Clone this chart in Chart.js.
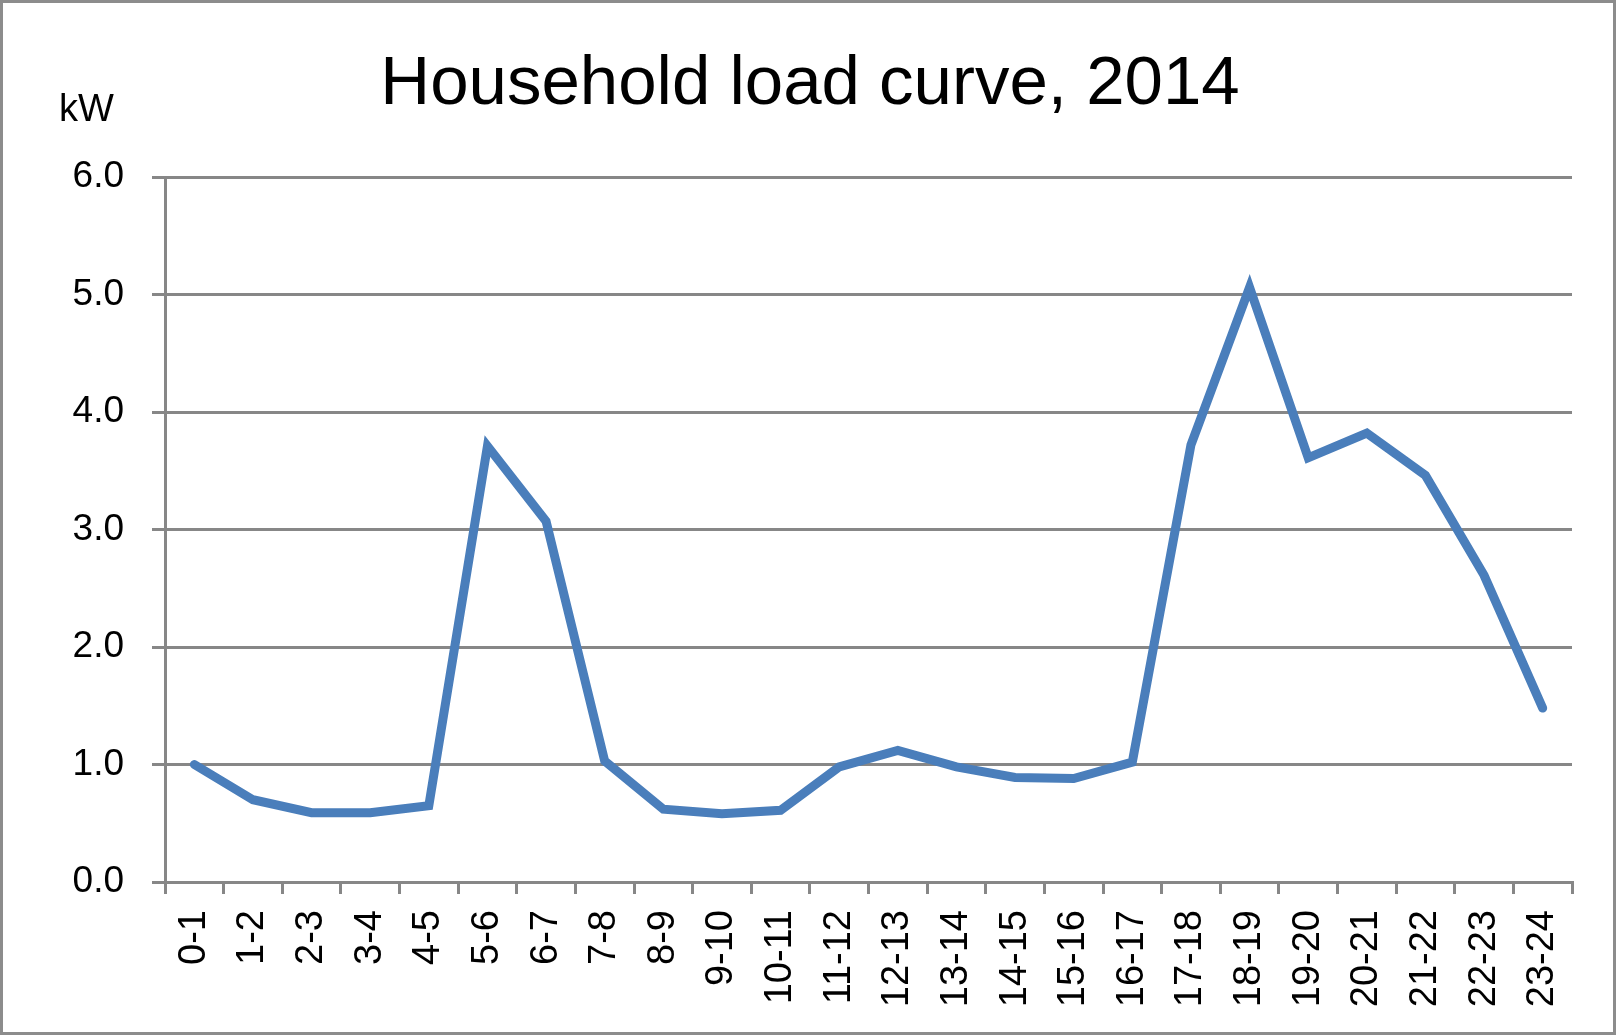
<!DOCTYPE html>
<html>
<head>
<meta charset="utf-8">
<script src="https://cdn.jsdelivr.net/npm/chart.js"></script>
<style>
  html, body { margin: 0; padding: 0; background: #fff; }
  canvas { display: block; }
</style>
</head>
<body>
<canvas id="chart" width="1616" height="1035"></canvas>
<script>
const hours = ["0-1", "1-2", "2-3", "3-4", "4-5", "5-6", "6-7", "7-8", "8-9", "9-10", "10-11", "11-12",
  "12-13", "13-14", "14-15", "15-16", "16-17", "17-18", "18-19", "19-20", "20-21", "21-22", "22-23", "23-24"];
const loadKW = [1.0, 0.70, 0.59, 0.59, 0.65, 3.71, 3.07, 1.03, 0.62, 0.58, 0.61, 0.98,
  1.12, 0.98, 0.89, 0.88, 1.02, 3.72, 5.06, 3.61, 3.82, 3.46, 2.61, 1.48];
const yTicks = [0, 1, 2, 3, 4, 5, 6];

const titleText = "Household load curve, 2014";
const unitText = "kW";

const gray = "#878787";
const labelFont = '"Liberation Sans", Arial, sans-serif';

const frame = {
  id: "frame",
  afterDraw(chart) {
    const ctx = chart.ctx;
    ctx.save();
    ctx.strokeStyle = "#8c8c8c";
    ctx.lineWidth = 3;
    ctx.strokeRect(1.5, 1.5, chart.width - 3, chart.height - 3);
    ctx.fillStyle = "#000";
    ctx.textBaseline = "alphabetic";
    ctx.font = '69px "Liberation Sans", Arial, sans-serif';
    ctx.textAlign = "center";
    ctx.fillText(titleText, 810, 104);
    ctx.font = '38px "Liberation Sans", Arial, sans-serif';
    ctx.textAlign = "left";
    ctx.fillText(unitText, 59, 121);
    ctx.restore();
  },
};

new Chart(document.getElementById("chart"), {
  type: "line",
  data: {
    labels: hours,
    datasets: [
      {
        data: loadKW,
        borderColor: "rgb(74, 126, 187)",
        borderWidth: 9,
        borderJoinStyle: "miter",
        borderCapStyle: "round",
        tension: 0,
        fill: false,
      },
    ],
  },
  options: {
    responsive: false,
    animation: false,
    layout: {
      padding: { top: 177, right: 44, bottom: 0, left: 0 },
    },
    plugins: {
      legend: { display: false },
      tooltip: { enabled: false },
      title: { display: false },
    },
    elements: {
      point: { radius: 0 },
    },
    scales: {
      x: {
        offset: true,
        grid: {
          offset: true,
          drawOnChartArea: false,
          drawTicks: true,
          tickLength: 12,
          color: gray,
          lineWidth: 3,
        },
        border: { display: true, color: gray, width: 3 },
        ticks: {
          autoSkip: false,
          maxRotation: 90,
          minRotation: 90,
          padding: 16,
          color: "#000",
          font: { family: labelFont, size: 38 },
        },
        afterFit(scale) {
          scale.height = 153;
          scale.paddingLeft = 0;
          scale.paddingRight = 0;
        },
      },
      y: {
        min: 0,
        max: 6,
        afterBuildTicks(scale) {
          scale.ticks = yTicks.map((v) => ({ value: v }));
        },
        grid: {
          drawTicks: true,
          tickLength: 13,
          color: gray,
          lineWidth: 3,
        },
        border: { display: true, color: gray, width: 3 },
        ticks: {
          padding: 28,
          color: "#000",
          font: { family: labelFont, size: 37 },
          callback: (v) => v.toFixed(1),
        },
        afterFit(scale) {
          scale.width = 165;
        },
      },
    },
  },
  plugins: [frame],
});
</script>
</body>
</html>
